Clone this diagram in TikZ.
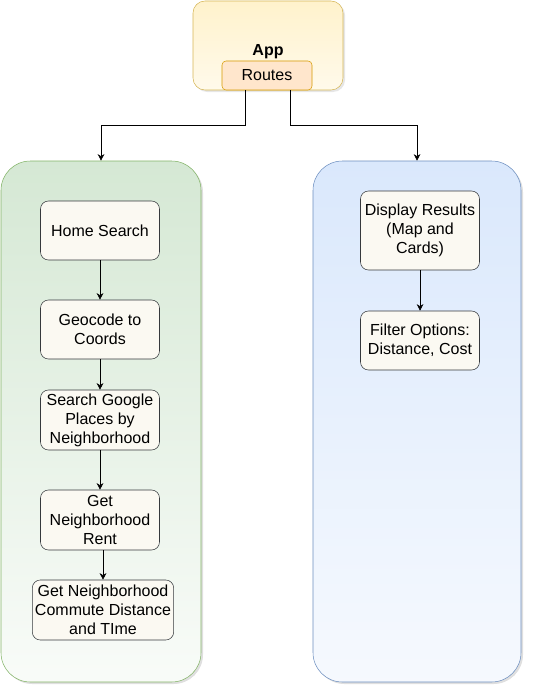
\documentclass[tikz,border=0pt]{standalone}
\usepackage{fontspec}
\setmainfont{Liberation Sans}
\usetikzlibrary{positioning,shadows,arrows.meta}

\definecolor{appfill}{HTML}{FFF2CC}
\definecolor{appline}{HTML}{D6B656}
\definecolor{routefill}{HTML}{FFE6CC}
\definecolor{routeline}{HTML}{D79B00}
\definecolor{greenfill}{HTML}{D5E8D4}
\definecolor{greenline}{HTML}{82B366}
\definecolor{bluefill}{HTML}{DAE8FC}
\definecolor{blueline}{HTML}{6C8EBF}
\definecolor{stepfill}{HTML}{FBF9F2}
\definecolor{stepline}{HTML}{36393D}

\begin{document}
\begin{tikzpicture}[x=0.75pt,y=-0.75pt,>={Stealth[length=5pt,width=5pt]},
    font=\fontsize{12}{14.3}\selectfont,
    stepbox/.style={draw=stepline,fill=stepfill,rounded corners=6pt,align=center,
        minimum width=89.25pt,minimum height=44.25pt,inner sep=2pt},
    groupbox/.style={rounded corners=22pt,minimum height=390.75pt,
        drop shadow={opacity=0.25,shadow xshift=1.5pt,shadow yshift=-1.5pt}}]
    \useasboundingbox (0,0) rectangle (532,692);
    % top
    \node[draw=appline,rounded corners=9pt,top color=appfill,bottom color=appfill!40,
        minimum width=112.5pt,minimum height=66.75pt,
        drop shadow={opacity=0.2,shadow xshift=1.5pt,shadow yshift=-1.5pt}] (app) at (268,45.5) {};
    \node[font=\fontsize{12}{14.3}\selectfont\bfseries] (applabel) at (268,51.5) {App};
    \node[draw=routeline,fill=routefill,rounded corners=3pt,
        minimum width=67.5pt,minimum height=21.75pt] (routes) at (267,75.5) {\raisebox{-1pt}{Routes}};
    % groups
    \node[groupbox,draw=greenline,top color=greenfill,bottom color=greenfill!15,
        minimum width=150pt] (search) at (101,421.5) {};
    \node[groupbox,draw=blueline,top color=bluefill,bottom color=bluefill!25,
        minimum width=156pt] (results) at (417,421.5) {};
    % left steps
    \node[stepbox] (home) at (100,230.5) {Home Search};
    \node[stepbox] (geo) at (100,329.5) {Geocode to\\Coords};
    \node[stepbox,minimum height=45pt] (places) at (100,420) {Search Google\\Places by\\Neighborhood};
    \node[stepbox,minimum height=45pt] (rent) at (100,520) {Get\\Neighborhood\\Rent};
    \node[stepbox,minimum width=105pt,minimum height=45pt] (commute) at (103,610) {Get Neighborhood\\Commute Distance\\and TIme};
    % right steps
    \node[stepbox,minimum height=59.25pt] (display) at (420,230.5) {Display Results\\(Map and\\Cards)};
    \node[stepbox] (filter) at (420,340.5) {Filter Options:\\Distance, Cost};

    \draw[->] ([xshift=-16.5pt]routes.south) -- ++(0,35) -| (search.north);
    \draw[->] ([xshift=17.25pt]routes.south) -- ++(0,35) -| (results.north);
    \path[->]
        (home) edge (geo)
        (geo) edge (places)
        (places) edge (rent)
        (display) edge (filter);
    \draw[->] (rent.south -| commute.north) -- (commute.north);
\end{tikzpicture}
\end{document}
